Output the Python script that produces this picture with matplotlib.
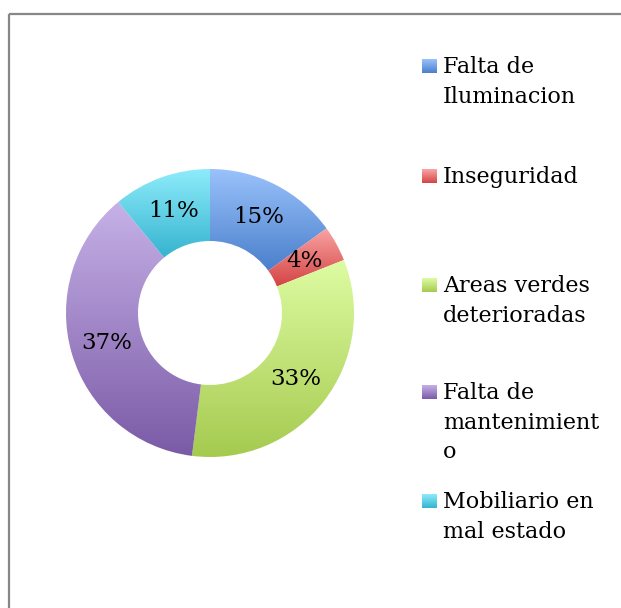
import numpy as np
import matplotlib.pyplot as plt
from matplotlib.colors import LinearSegmentedColormap
from matplotlib.patches import Rectangle

# datos del grafico
categorias = ['Falta de\nIluminacion', 'Inseguridad', 'Areas verdes\ndeterioradas',
              'Falta de\nmantenimient\no', 'Mobiliario en\nmal estado']
porcentajes = [15, 4, 33, 37, 11]

# degradado de cada sector (arriba claro, abajo oscuro)
claros = ['#9ac2fb', '#f9a6a5', '#defca3', '#c6b1e7', '#8eecfb']
oscuros = ['#4a7fcb', '#d44444', '#a5ca4f', '#7a5aa6', '#35b3cf']

W, H = 621, 608
fig = plt.figure(figsize=(W / 100, H / 100), dpi=100)
fuente = 'DejaVu Serif'
tam = 16

# ejes de la dona: centro (210, 313) px, radio 144 px
cx, cy, R = 210, 313, 144
lado = 300
ax = fig.add_axes([(cx - lado / 2) / W, (H - cy - lado / 2) / H, lado / W, lado / H])
ancho = 0.5
cunas, _ = ax.pie(porcentajes, startangle=90, counterclock=False, radius=1,
                  wedgeprops=dict(width=ancho, linewidth=0))
lim = lado / 2 / R

grad = np.linspace(0, 1, 256).reshape(-1, 1)
for i, w in enumerate(cunas):
    w.set_facecolor('none')
    bb = w.get_path().get_extents()
    cmap = LinearSegmentedColormap.from_list('g%d' % i, [claros[i], oscuros[i]])
    im = ax.imshow(grad, cmap=cmap, aspect='auto', origin='upper',
                   extent=[bb.x0, bb.x1, bb.y0, bb.y1], interpolation='bilinear')
    im.set_clip_path(w)
    # etiqueta de porcentaje en el medio del anillo
    ang = np.deg2rad((w.theta1 + w.theta2) / 2)
    rm = 1 - ancho / 2
    ax.text(rm * np.cos(ang), rm * np.sin(ang), '%d%%' % porcentajes[i],
            ha='center', va='center', fontsize=tam + 0.5, family=fuente, color='black')
ax.set_xlim(-lim, lim)
ax.set_ylim(-lim, lim)
ax.axis('off')

# capa en pixeles para leyenda y borde
lax = fig.add_axes([0, 0, 1, 1])
lax.add_patch(Rectangle((9, 14), W + 20, H + 20, fill=False, edgecolor='#878787', linewidth=1.6))

y_ini = [66, 176, 285, 392, 501]
for i, cat in enumerate(categorias):
    y = y_ini[i]
    cmap = LinearSegmentedColormap.from_list('l%d' % i, [claros[i], oscuros[i]])
    lax.imshow(grad, cmap=cmap, aspect='auto', origin='upper',
               extent=[422, 437, y + 7, y - 7], interpolation='bilinear')
    lax.text(443, y - 10, cat, ha='left', va='top', fontsize=tam, family=fuente,
             color='black', linespacing=1.45)
lax.set_xlim(0, W)
lax.set_ylim(H, 0)
lax.axis('off')

fig.savefig('out.png', dpi=100, facecolor='white')
